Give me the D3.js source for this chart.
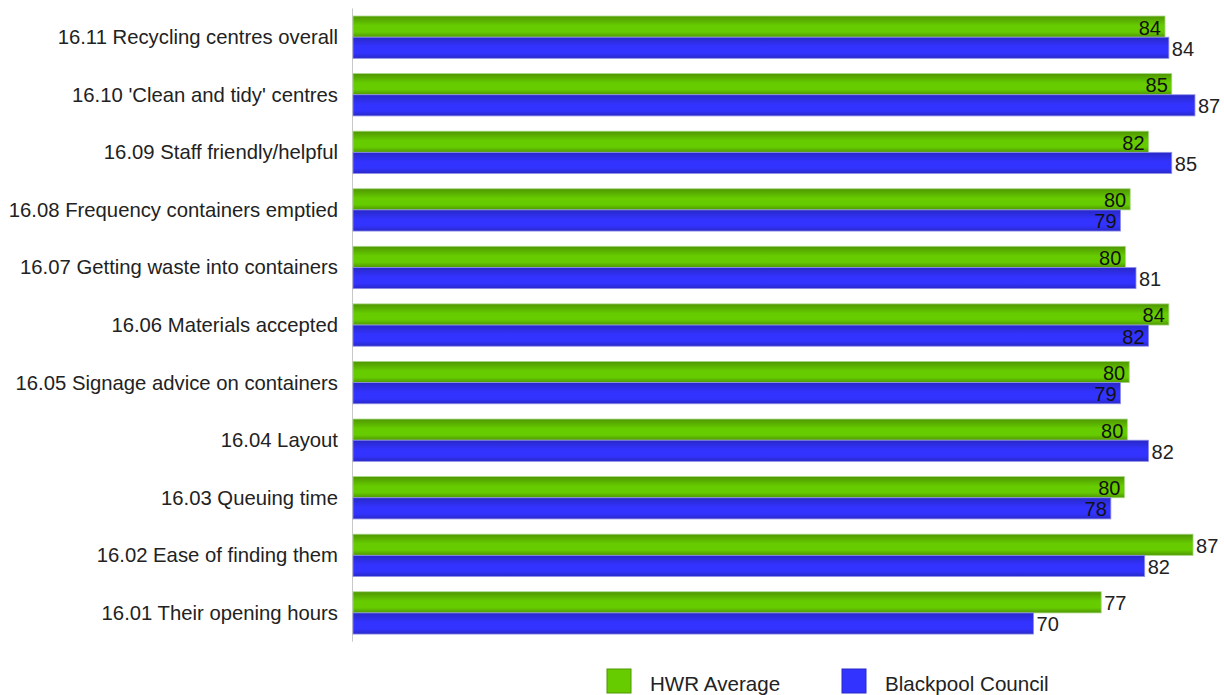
<!DOCTYPE html>
<html>
<head>
<meta charset="utf-8">
<script src="https://cdn.jsdelivr.net/npm/d3@7"></script>
<style>
  html, body { margin: 0; padding: 0; background: #fff; }
  svg { display: block; font-family: "Liberation Sans", Arial, sans-serif; }
</style>
</head>
<body>
<svg id="chart" width="1224" height="695"></svg>
<script>
// Survey satisfaction scores (%) for household waste recycling centres
const categories = [
  "16.11 Recycling centres overall",
  "16.10 'Clean and tidy' centres",
  "16.09 Staff friendly/helpful",
  "16.08 Frequency containers emptied",
  "16.07 Getting waste into containers",
  "16.06 Materials accepted",
  "16.05 Signage advice on containers",
  "16.04 Layout",
  "16.03 Queuing time",
  "16.02 Ease of finding them",
  "16.01 Their opening hours"
];
const seriesNames = ["HWR Average", "Blackpool Council"];
const hwrAverage = [84.0, 84.7, 82.3, 80.4, 79.9, 84.4, 80.3, 80.1, 79.8, 86.9, 77.4];
const blackpool  = [84.4, 87.1, 84.7, 79.4, 81.0, 82.3, 79.4, 82.3, 78.4, 81.9, 70.4];
const xDomain = [0, 90];

const svg = d3.select("#chart");
const plot = { left: 353, right: 1223, top: 8.4, bottom: 641.7 };

const x = d3.scaleLinear().domain(xDomain).range([plot.left, plot.right]);
const y = d3.scaleBand().domain(categories).range([plot.top, plot.bottom])
  .paddingInner(0.265).paddingOuter(0.1325);
const ySub = d3.scaleBand().domain(seriesNames).range([0, y.bandwidth()]);

const colors = {
  "HWR Average": { mid: "#66cc00", edge: "#4f9600", stroke: "#a6d884" },
  "Blackpool Council": { mid: "#3333ff", edge: "#2828c8", stroke: "#8f8fe8" }
};

// Vertical gradients give the bars their rounded, tube-like shading
const defs = svg.append("defs");
seriesNames.forEach((s, i) => {
  const g = defs.append("linearGradient").attr("id", "grad" + i)
    .attr("x1", 0).attr("y1", 0).attr("x2", 0).attr("y2", 1);
  g.append("stop").attr("offset", "0%").attr("stop-color", colors[s].edge);
  g.append("stop").attr("offset", "45%").attr("stop-color", colors[s].mid);
  g.append("stop").attr("offset", "75%").attr("stop-color", colors[s].mid);
  g.append("stop").attr("offset", "100%").attr("stop-color", colors[s].edge);
});

const rows = categories.map((c, i) => ({
  cat: c,
  vals: [
    { series: seriesNames[0], idx: 0, value: hwrAverage[i] },
    { series: seriesNames[1], idx: 1, value: blackpool[i] }
  ]
}));

// When the two bars of a row end close together, labels move inside the bar ends
rows.forEach(r => {
  const [g, b] = r.vals;
  const close = Math.abs(g.value - b.value) < 3.5;
  g.inside = close;
  b.inside = close && b.value < g.value;
});

// Category axis line
svg.append("line")
  .attr("x1", plot.left - 0.5).attr("x2", plot.left - 0.5)
  .attr("y1", plot.top).attr("y2", plot.bottom)
  .attr("stroke", "#c8c8c8").attr("stroke-width", 1);

const groups = svg.append("g").selectAll("g").data(rows).join("g")
  .attr("transform", d => `translate(0,${y(d.cat)})`);

groups.selectAll("rect").data(d => d.vals).join("rect")
  .attr("x", x(0))
  .attr("y", d => ySub(d.series))
  .attr("width", d => x(d.value) - x(0))
  .attr("height", ySub.bandwidth())
  .attr("fill", d => `url(#grad${d.idx})`)
  .attr("stroke", d => colors[d.series].stroke)
  .attr("stroke-width", 0.8);

const fmt = d3.format(".0f");
groups.selectAll("text.value").data(d => d.vals).join("text")
  .attr("class", "value")
  .attr("x", d => d.inside ? x(d.value) - 4 : x(d.value) + 3)
  .attr("y", d => ySub(d.series) + ySub.bandwidth() / 2 + 8)
  .attr("text-anchor", d => d.inside ? "end" : "start")
  .attr("font-size", 20)
  .attr("fill", d => d.inside ? "#111" : "#222")
  .text(d => fmt(d.value));

// Category labels
svg.append("g").selectAll("text").data(categories).join("text")
  .attr("x", 338)
  .attr("y", d => y(d) + y.bandwidth() / 2 + 7)
  .attr("text-anchor", "end")
  .attr("font-size", 20.3)
  .attr("fill", "#222")
  .text(d => d);

// Legend
const legendX = [607, 842];
const legend = svg.append("g").selectAll("g").data(seriesNames).join("g")
  .attr("transform", (d, i) => `translate(${legendX[i]},669)`);
legend.append("rect")
  .attr("width", 24).attr("height", 24)
  .attr("fill", d => colors[d].mid)
  .attr("stroke", d => colors[d].edge).attr("stroke-width", 1);
legend.append("text")
  .attr("x", 43).attr("y", 22)
  .attr("font-size", 20.6)
  .attr("fill", "#222")
  .text(d => d);
</script>
</body>
</html>
